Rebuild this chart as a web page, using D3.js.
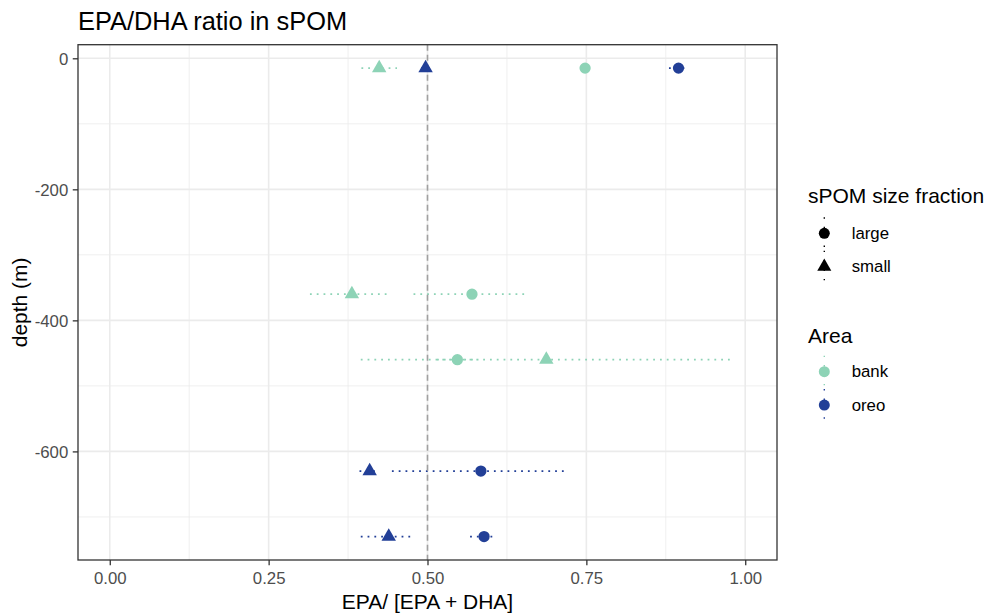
<!DOCTYPE html>
<html lang="en">
<head>
    <meta charset="UTF-8">
    <title>EPA/DHA ratio in sPOM</title>
    <style>
        html, body {
            margin: 0;
            padding: 0;
            background: #fff;
        }
        svg {
            display: block;
            font-family: "Liberation Sans", Arial, sans-serif;
        }
        .grid-major {
            stroke: #ebebeb;
            stroke-width: 1.6px;
        }
        .grid-minor {
            stroke: #ebebeb;
            stroke-width: 0.8px;
        }
        .tick-label {
            font-size: 16.8px;
            fill: #4d4d4d;
        }
        .legend-title {
            font-size: 21px;
        }
        .legend-label {
            font-size: 16.8px;
        }
    </style>
</head>
<body>
<svg width="995" height="614"></svg>

<script src="https://d3js.org/d3.v7.min.js"></script>
<script>
    // data, one entry per point
    const depth    = [-15, -15, -15, -15, -360, -360, -460, -460, -630, -630, -730, -730];
    const area     = ["bank", "bank", "oreo", "oreo", "bank", "bank", "bank", "bank", "oreo", "oreo", "oreo", "oreo"];
    const fraction = ["small", "large", "small", "large", "small", "large", "large", "small", "small", "large", "small", "large"];
    const ratio    = [0.424, 0.748, 0.497, 0.895, 0.381, 0.570, 0.547, 0.687, 0.409, 0.584, 0.439, 0.589];
    const ratioLo  = [0.396, 0.746, 0.490, 0.880, 0.315, 0.478, 0.515, 0.395, 0.393, 0.444, 0.395, 0.567];
    const ratioHi  = [0.452, 0.750, 0.504, 0.905, 0.442, 0.656, 0.580, 0.979, 0.425, 0.715, 0.479, 0.609];

    const xTicks = [0, 0.25, 0.5, 0.75, 1];
    const xTickLabels = ["0.00", "0.25", "0.50", "0.75", "1.00"];
    const xMinor = [0.125, 0.375, 0.625, 0.875];
    const yTicks = [0, -200, -400, -600];
    const yMinor = [-100, -300, -500, -700];

    const areas = ["bank", "oreo"];
    const areaColors = ["#8dd3b6", "#223f97"];
    const fractions = ["large", "small"];

    const rows = depth.map((d, i) => ({
        depth: d, area: area[i], fraction: fraction[i],
        ratio: ratio[i], lo: ratioLo[i], hi: ratioHi[i]
    }));

    const panel = {left: 78, right: 777, top: 44.7, bottom: 560};

    // ggplot-like 5% expansion
    const xLim = [0, 1];
    const xPad = (xLim[1] - xLim[0]) * 0.05;
    const yExt = d3.extent(depth);
    const yPad = (yExt[1] - yExt[0]) * 0.05;

    const x = d3.scaleLinear()
        .domain([xLim[0] - xPad, xLim[1] + xPad])
        .range([panel.left, panel.right]);
    const y = d3.scaleLinear()
        .domain([yExt[0] - yPad, yExt[1] + yPad])
        .range([panel.bottom, panel.top]);
    const color = d3.scaleOrdinal().domain(areas).range(areaColors);

    const svg = d3.select("svg");

    function shapePath(f, size) {
        return f === "large"
            ? d3.symbol(d3.symbolCircle, size)()
            : d3.symbol(d3.symbolTriangle, size * 0.9)();
    }

    // grid
    const grid = svg.append("g");
    grid.selectAll(".xminor").data(xMinor).enter().append("line")
        .attr("class", "grid-minor")
        .attr("x1", d => x(d)).attr("x2", d => x(d))
        .attr("y1", panel.top).attr("y2", panel.bottom);
    grid.selectAll(".yminor").data(yMinor).enter().append("line")
        .attr("class", "grid-minor")
        .attr("x1", panel.left).attr("x2", panel.right)
        .attr("y1", d => y(d)).attr("y2", d => y(d));
    grid.selectAll(".xmajor").data(xTicks).enter().append("line")
        .attr("class", "grid-major")
        .attr("x1", d => x(d)).attr("x2", d => x(d))
        .attr("y1", panel.top).attr("y2", panel.bottom);
    grid.selectAll(".ymajor").data(yTicks).enter().append("line")
        .attr("class", "grid-major")
        .attr("x1", panel.left).attr("x2", panel.right)
        .attr("y1", d => y(d)).attr("y2", d => y(d));

    // error ranges (dotted)
    svg.append("g").selectAll("line").data(rows).enter().append("line")
        .attr("x1", d => x(d.lo)).attr("x2", d => x(d.hi))
        .attr("y1", d => y(d.depth)).attr("y2", d => y(d.depth))
        .attr("stroke", d => color(d.area))
        .attr("stroke-width", 1.8)
        .attr("stroke-dasharray", "1.8,5");

    // reference line at 0.5
    svg.append("line")
        .attr("x1", x(0.5)).attr("x2", x(0.5))
        .attr("y1", panel.top).attr("y2", panel.bottom)
        .attr("stroke", "#a0a0a0")
        .attr("stroke-width", 1.6)
        .attr("stroke-dasharray", "6,4");

    // points
    svg.append("g").selectAll("path").data(rows).enter().append("path")
        .attr("transform", d => `translate(${x(d.ratio)},${y(d.depth)})`)
        .attr("d", d => shapePath(d.fraction, 100))
        .attr("fill", d => color(d.area));

    // panel border
    svg.append("rect")
        .attr("x", panel.left).attr("y", panel.top)
        .attr("width", panel.right - panel.left)
        .attr("height", panel.bottom - panel.top)
        .attr("fill", "none")
        .attr("stroke", "#333333")
        .attr("stroke-width", 1.3);

    // axes
    const xAxis = svg.append("g")
        .attr("transform", `translate(0,${panel.bottom})`)
        .call(d3.axisBottom(x).tickValues(xTicks)
            .tickFormat((d, i) => xTickLabels[i])
            .tickSize(5.25).tickPadding(7));
    const yAxis = svg.append("g")
        .attr("transform", `translate(${panel.left},0)`)
        .call(d3.axisLeft(y).tickValues(yTicks)
            .tickFormat(d => String(d))
            .tickSize(5.25).tickPadding(4.5));
    [xAxis, yAxis].forEach(a => {
        a.select(".domain").remove();
        a.selectAll(".tick line").attr("stroke", "#333333").attr("stroke-width", 1.3);
        a.selectAll(".tick text").attr("class", "tick-label")
            .style("font-family", "'Liberation Sans', Arial, sans-serif");
    });
    yAxis.selectAll(".tick text").attr("dy", "0.36em");

    // titles
    svg.append("text")
        .attr("x", panel.left).attr("y", 30)
        .style("font-size", "25.4px")
        .text("EPA/DHA ratio in sPOM");
    svg.append("text")
        .attr("x", (panel.left + panel.right) / 2).attr("y", 609)
        .attr("text-anchor", "middle")
        .style("font-size", "21px")
        .text("EPA/ [EPA + DHA]");
    svg.append("text")
        .attr("transform", `translate(27,${(panel.top + panel.bottom) / 2}) rotate(-90)`)
        .attr("text-anchor", "middle")
        .style("font-size", "21px")
        .text("depth (m)");

    // legends
    const legX = 808, keyX = 824.3, labX = 851.7;

    function legendKey(g, cy, fill, f) {
        g.append("line")
            .attr("x1", keyX).attr("x2", keyX)
            .attr("y1", cy - 16).attr("y2", cy + 16)
            .attr("stroke", fill)
            .attr("stroke-width", 1.4)
            .attr("stroke-dasharray", "1.4,8");
        g.append("path")
            .attr("transform", `translate(${keyX},${cy})`)
            .attr("d", shapePath(f, 95))
            .attr("fill", fill);
    }

    const leg1 = svg.append("g");
    leg1.append("text").attr("class", "legend-title")
        .attr("x", legX).attr("y", 203.3).text("sPOM size fraction");
    fractions.forEach((f, i) => {
        const cy = 233.3 + i * 33.4;
        legendKey(leg1, cy, "#000", f);
        leg1.append("text").attr("class", "legend-label")
            .attr("x", labX).attr("y", cy + 5.5).text(f);
    });

    const leg2 = svg.append("g");
    leg2.append("text").attr("class", "legend-title")
        .attr("x", legX).attr("y", 343.3).text("Area");
    areas.forEach((a, i) => {
        const cy = 371.7 + i * 33.4;
        legendKey(leg2, cy, color(a), "large");
        leg2.append("text").attr("class", "legend-label")
            .attr("x", labX).attr("y", cy + 5.5).text(a);
    });
</script>

</body>
</html>
